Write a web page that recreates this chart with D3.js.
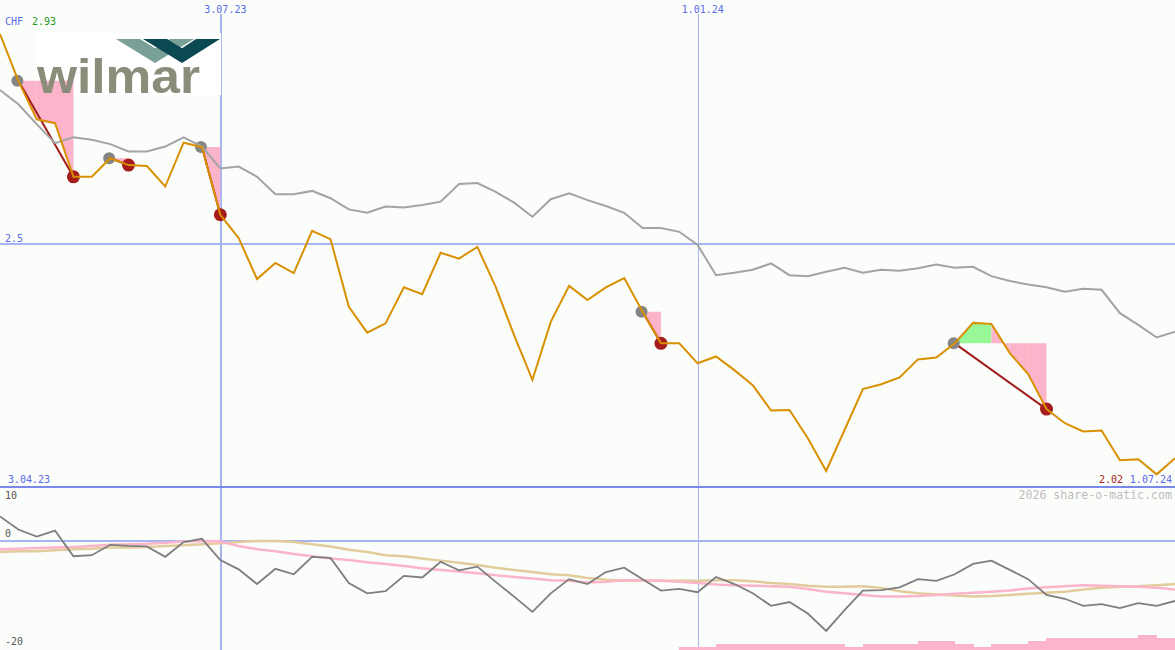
<!DOCTYPE html>
<html>
<head>
<meta charset="utf-8">
<script src="https://cdn.jsdelivr.net/npm/d3@7/dist/d3.min.js"></script>
<style>
html,body{margin:0;padding:0;background:#fbfdfb;}
svg{display:block;}
text{font-family:"DejaVu Sans Mono",monospace;}
</style>
</head>
<body>
<svg id="chart" width="1175" height="650"></svg>
<script>
// ---- data (weekly, 65 points: 3.04.23 .. 1.07.24) ----
const price = [2.930,2.834,2.755,2.747,2.637,2.637,2.675,2.661,2.659,2.617,
  2.707,2.698,2.559,2.511,2.427,2.460,2.439,2.526,2.509,2.370,
  2.317,2.336,2.410,2.396,2.481,2.469,2.493,2.411,2.312,2.220,
  2.339,2.413,2.384,2.410,2.429,2.360,2.295,2.295,2.254,2.268,
  2.240,2.209,2.157,2.158,2.100,2.033,2.117,2.201,2.211,2.225,
  2.262,2.266,2.295,2.337,2.335,2.275,2.232,2.160,2.131,2.114,
  2.116,2.055,2.057,2.026,2.059];
const benchmark = [2.815,2.786,2.745,2.706,2.718,2.713,2.704,2.689,2.689,2.699,
  2.718,2.699,2.654,2.658,2.637,2.601,2.601,2.608,2.593,2.570,
  2.563,2.576,2.574,2.579,2.586,2.622,2.624,2.606,2.584,2.555,
  2.591,2.603,2.589,2.577,2.563,2.532,2.532,2.524,2.497,2.435,
  2.440,2.446,2.459,2.435,2.433,2.442,2.450,2.440,2.446,2.444,
  2.449,2.457,2.450,2.452,2.433,2.423,2.416,2.410,2.401,2.407,
  2.405,2.357,2.333,2.307,2.319];
const momentum = [4.5,2.1,0.8,1.9,-2.8,-2.6,-0.7,-0.9,-1.0,-2.9,
  -0.2,0.4,-3.5,-5.2,-7.9,-5.1,-6.1,-2.9,-3.1,-7.7,
  -9.6,-9.2,-6.4,-6.7,-3.8,-5.4,-4.7,-7.5,-10.2,-13.0,
  -9.6,-7.0,-7.9,-5.7,-4.9,-7.0,-9.1,-8.8,-9.4,-6.6,
  -7.9,-9.6,-11.9,-11.2,-13.3,-16.5,-12.7,-9.1,-9.0,-8.5,
  -7.0,-7.3,-6.1,-4.2,-3.6,-5.3,-7.0,-9.9,-10.6,-11.9,
  -11.6,-12.3,-11.4,-11.9,-11.0];
const avgPink = [-1.5,-1.4,-1.3,-1.2,-1.1,-0.9,-0.7,-0.6,-0.5,-0.3,
  -0.1,0.0,-0.1,-0.9,-1.5,-1.9,-2.4,-2.8,-3.2,-3.5,
  -3.9,-4.2,-4.6,-5.0,-5.3,-5.6,-5.9,-6.3,-6.6,-6.9,
  -7.2,-7.3,-7.6,-7.5,-7.2,-7.2,-7.3,-7.5,-7.7,-8.0,
  -8.1,-8.2,-8.3,-8.4,-8.8,-9.3,-9.6,-9.9,-10.2,-10.2,
  -10.1,-9.9,-9.7,-9.5,-9.3,-9.1,-8.7,-8.5,-8.3,-8.1,
  -8.2,-8.3,-8.4,-8.6,-8.9];
const avgTan = [-2.0,-1.9,-1.9,-1.7,-1.5,-1.4,-1.2,-1.2,-1.1,-0.9,
  -0.8,-0.6,-0.4,-0.2,0.0,0.0,-0.2,-0.6,-1.0,-1.6,
  -2.0,-2.6,-2.8,-3.2,-3.6,-4.0,-4.4,-4.9,-5.3,-5.7,
  -6.1,-6.3,-6.8,-7.1,-7.3,-7.3,-7.3,-7.3,-7.3,-7.2,
  -7.2,-7.4,-7.7,-7.9,-8.2,-8.4,-8.4,-8.3,-8.6,-9.2,
  -9.6,-9.8,-10.0,-10.2,-10.1,-9.9,-9.7,-9.5,-9.3,-8.9,
  -8.6,-8.4,-8.3,-8.1,-7.9];
// one level per weekly interval (64 intervals)
const volume = [0,0,0,0,0,0,0,0,0,0, 0,0,0,0,0,0,0,0,0,0,
  0,0,0,0,0,0,0,0,0,0, 0,0,0,0,0,0,0,1,1,2,
  2,2,2,2,2,2,1,2,2,2, 3,3,2,1,2,2,3,4,4,4,
  4,4,5,4];
const buyIdx  = [1, 6, 11, 35, 52];
const sellIdx = [4, 7, 12, 36, 57];
const dateTicks = [{i:12, label:"3.07.23"}, {i:38, label:"1.01.24"}];
const startLabel = "3.04.23", endLabel = "1.07.24";
const currency = "CHF", maxLabel = "2.93", minLabel = "2.02";
const priceGrid = [2.5];
const lowTicks = [10, 0, -20];

// ---- scales ----
const W = 1175, H = 650, mainBottom = 487;
const x = d3.scaleLinear().domain([0, price.length - 1]).range([0, W]);
const y = d3.scaleLinear().domain([2.0, 3.0]).range([mainBottom, 0]);
const yl = d3.scaleLinear().domain([-20, 10]).range([H, 486.5]);
const yv = d3.scaleLinear().domain([0, 5]).range([H, 635]);

const svg = d3.select("#chart");
svg.append("rect").attr("width", W).attr("height", H).attr("fill", "#fbfdfb");

const gridC = "#a6b4f4";
const g = svg.append("g").attr("shape-rendering", "crispEdges");
dateTicks.forEach((d, k) => {
  const xx = Math.round(x(d.i)) + (k === 0 ? 1 : 0.5);
  g.append("line").attr("x1", xx).attr("x2", xx)
    .attr("y1", 14).attr("y2", H).attr("stroke", gridC).attr("stroke-width", k === 0 ? 2 : 1);
});
priceGrid.forEach(v => {
  g.append("line").attr("x1", 0).attr("x2", W).attr("y1", Math.round(y(v))).attr("y2", Math.round(y(v)))
    .attr("stroke", gridC).attr("stroke-width", 2);
});
g.append("line").attr("x1", 0).attr("x2", W).attr("y1", Math.round(yl(0))).attr("y2", Math.round(yl(0)))
  .attr("stroke", gridC).attr("stroke-width", 2);
g.append("line").attr("x1", 0).attr("x2", W).attr("y1", mainBottom).attr("y2", mainBottom)
  .attr("stroke", "#7a88ea").attr("stroke-width", 2);

// logo background (covers the date line behind the logo)
svg.append("rect").attr("x", 36).attr("y", 33).attr("width", 185).attr("height", 62).attr("fill", "#ffffff");

// ---- trade fills ----
const pink = "#fbb4c9", green = "#98f898";
const fills = svg.append("g");
buyIdx.forEach((b, k) => {
  const s = sellIdx[k], bp = price[b];
  for (let i = b; i < s; i++) {
    const pts = [[x(i), y(bp)], [x(i), y(price[i])], [x(i + 1), y(price[i + 1])], [x(i + 1), y(bp)]];
    fills.append("polygon").attr("points", pts.join(" "))
      .attr("fill", price[i + 1] < bp ? pink : green);
  }
});

// ---- logo ----
const logo = svg.append("g");
function chevron(L, R, T, w, top, bottom) {
  const slope = (bottom - top) / (T - L);
  const inner = bottom - w * slope;
  return [[L, top], [L + w, top], [T, inner], [R - w, top], [R, top], [T, bottom]];
}
logo.append("polygon").attr("points", chevron(116, 194, 155, 24, 39, 63).join(" ")).attr("fill", "#78a096");
logo.append("polygon").attr("points", chevron(143, 220, 182, 24, 39, 63).join(" ")).attr("fill", "#0a4852");
logo.append("text").attr("x", 37).attr("y", 93).attr("textLength", 163).attr("lengthAdjust", "spacingAndGlyphs")
  .style("font-family", "'Liberation Sans', Arial, sans-serif").style("font-weight", "bold").style("font-size", "48px")
  .attr("fill", "#8c8c7a").text("wilmar");

// trade lines & markers
buyIdx.forEach((b, k) => {
  const s = sellIdx[k];
  svg.append("line").attr("x1", x(b)).attr("y1", y(price[b])).attr("x2", x(s)).attr("y2", y(price[s]))
    .attr("stroke", "#a11c1c").attr("stroke-width", 2);
});
buyIdx.forEach(b => {
  svg.append("circle").attr("cx", x(b) - 1).attr("cy", y(price[b])).attr("r", 6).attr("fill", "#858585");
});
sellIdx.forEach(s => {
  svg.append("circle").attr("cx", x(s)).attr("cy", y(price[s])).attr("r", 6.5).attr("fill", "#a51c1c");
});

// ---- lines ----
const lineMain = d3.line().x((d, i) => x(i)).y(d => y(d));
svg.append("path").attr("d", lineMain(benchmark)).attr("fill", "none").attr("stroke", "#a3a3a3").attr("stroke-width", 2);
svg.append("path").attr("d", lineMain(price)).attr("fill", "none").attr("stroke", "#d99000").attr("stroke-width", 2);

// ---- lower panel ----
const lineLow = d3.line().x((d, i) => x(i)).y(d => yl(d));
svg.append("g").attr("shape-rendering", "crispEdges").selectAll("rect").data(volume).join("rect")
  .attr("x", (d, i) => x(i)).attr("width", (d, i) => x(i + 1) - x(i) + 0.5)
  .attr("y", d => yv(d)).attr("height", d => H - yv(d)).attr("fill", pink);
svg.append("path").attr("d", lineLow(avgTan)).attr("fill", "none").attr("stroke", "#e2cc9c").attr("stroke-width", 2.5);
svg.append("path").attr("d", lineLow(avgPink)).attr("fill", "none").attr("stroke", pink).attr("stroke-width", 2.5);
svg.append("path").attr("d", lineLow(momentum)).attr("fill", "none").attr("stroke", "#7e7e7e").attr("stroke-width", 1.8);

// ---- labels ----
const blue = "#5a6ae6";
const lab = (tx, ty, t, c, anchor, size) => svg.append("text").attr("x", tx).attr("y", ty)
  .attr("fill", c).attr("text-anchor", anchor || "start").style("font-size", (size || 10) + "px").text(t);
lab(5, 25, currency, blue);
lab(32, 25, maxLabel, "#1f9a1f");
dateTicks.forEach(d => lab(x(d.i) - 16, 13, d.label, blue));
priceGrid.forEach(v => lab(5, y(v) - 2, String(v), blue));
lab(8, 483, startLabel, blue);
lab(1172, 483, endLabel, blue, "end");
lab(1123, 483, minLabel, "#a51c1c", "end");
lab(1172, 499, "2026 share-o-matic.com", "#bdbdbd", "end", 11.6);
lowTicks.forEach(v => lab(5, yl(v) + (v === 10 ? 12 : v === 0 ? -4 : -5), String(v), "#555555"));
</script>
</body>
</html>
